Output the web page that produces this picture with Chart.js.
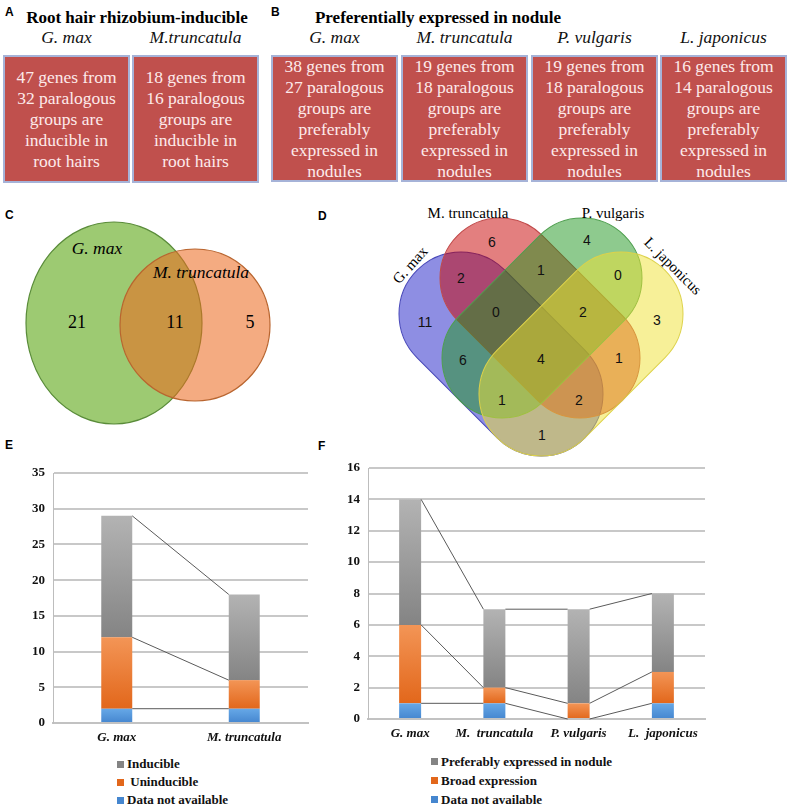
<!DOCTYPE html>
<html>
<head>
<meta charset="utf-8">
<title>Root hair and nodule genes</title>
<script src="https://cdn.jsdelivr.net/npm/chart.js@4.4.1/dist/chart.umd.min.js"></script>
<style>
  html, body { margin: 0; padding: 0; background: #fff; }
  body { position: relative; width: 787px; height: 804px; overflow: hidden; font-family: "Liberation Serif", "Times New Roman", serif; color: #111; }
  .tag { position: absolute; font: bold 12px "Liberation Sans", Arial, sans-serif; line-height: 12px; color: #000; }
  .title { position: absolute; font-weight: bold; font-size: 17px; line-height: 18px; white-space: nowrap; transform: translateX(-50%); color: #000; }
  .species { position: absolute; top: 28px; font-style: italic; font-size: 17.5px; line-height: 18px; white-space: nowrap; transform: translateX(-50%); }
  .box { position: absolute; top: 55px; height: 128px; box-sizing: border-box; background: #c0504d; border: 2px solid #a6b3d8; color: #fdeaea; font-size: 17.5px; line-height: 21px; text-align: center; display: flex; align-items: center; justify-content: center; }
  canvas { position: absolute; }
  #venn { position: absolute; left: 0; top: 0; }
  .legend { position: absolute; font-weight: bold; font-size: 13px; color: #111; }
  .legend div { display: flex; align-items: center; white-space: pre; }
  .legend .key { display: inline-block; width: 7px; height: 7px; margin-right: 3px; }
</style>
</head>
<body>
<div class="tag" style="left:5px;top:6px">A</div>
<div class="title" style="left:137px;top:9px">Root hair rhizobium-inducible</div>
<div class="tag" style="left:271px;top:6px">B</div>
<div class="title" style="left:438px;top:9px">Preferentially expressed in nodule</div>
<div id="boxes"></div>

<svg id="venn" width="787" height="470"></svg>
<div class="tag" style="left:5px;top:209px">C</div>
<div class="tag" style="left:318px;top:210px">D</div>

<div class="tag" style="left:5px;top:439px">E</div>
<div class="tag" style="left:318px;top:440px">F</div>
<canvas id="rootHairChart" width="320" height="300" style="left:0;top:450px"></canvas>
<canvas id="noduleChart" width="420" height="300" style="left:300px;top:445px"></canvas>
<div class="legend" id="rootHairLegend" style="left:117px;top:755px;line-height:18px"></div>
<div class="legend" id="noduleLegend" style="left:431px;top:752px;line-height:19px"></div>

<script>
// panel A / B boxes
const rootHairBoxSpecies = ['G. max', 'M.truncatula'];
const rootHairGenes = [47, 18];
const rootHairGroups = [32, 16];
const noduleBoxSpecies = ['G. max', 'M. truncatula', 'P. vulgaris', 'L. japonicus'];
const noduleGenes = [38, 19, 19, 16];
const noduleGroups = [27, 18, 18, 14];

// panel C: G. max only, shared, M. truncatula only
const vennTwoCounts = [21, 11, 5];
// panel D, regions in the order of vennFourSpots below
const vennFourCounts = [11, 6, 4, 3, 2, 1, 0, 0, 2, 6, 4, 1, 1, 2, 1];

// panel E
const rootHairSpecies = ['G. max', 'M. truncatula'];
const rootHairNA = [2, 2];
const rootHairUninducible = [10, 4];
const rootHairInducible = [17, 12];
const rootHairTicks = [0, 5, 10, 15, 20, 25, 30, 35];

// panel F
const noduleSpecies = ['G. max', 'M.  truncatula', 'P. vulgaris', 'L.  japonicus'];
const noduleNA = [1, 1, 0, 1];
const noduleBroad = [5, 1, 1, 2];
const nodulePreferred = [8, 5, 6, 5];
const noduleTicks = [0, 2, 4, 6, 8, 10, 12, 14, 16];

// ---------- boxes ----------
const boxes = document.getElementById('boxes');
function addBox(left, width, height, lines, species) {
  const b = document.createElement('div');
  b.className = 'box';
  b.style.left = left + 'px';
  b.style.width = width + 'px';
  b.style.height = height + 'px';
  b.innerHTML = '<div>' + lines.join('<br>') + '</div>';
  boxes.appendChild(b);
  const s = document.createElement('div');
  s.className = 'species';
  s.style.left = (left + width / 2) + 'px';
  s.textContent = species;
  boxes.appendChild(s);
}
const aLefts = [3, 132];
rootHairGenes.forEach((g, i) => {
  addBox(aLefts[i], 127, 128, [g + ' genes from', rootHairGroups[i] + ' paralogous', 'groups are', 'inducible in', 'root hairs'], rootHairBoxSpecies[i]);
});
const bLefts = [271, 401, 531, 660];
noduleGenes.forEach((g, i) => {
  addBox(bLefts[i], 127, 127, [g + ' genes from', noduleGroups[i] + ' paralogous', 'groups are', 'preferably', 'expressed in', 'nodules'], noduleBoxSpecies[i]);
});

// ---------- Venn diagrams ----------
const NS = 'http://www.w3.org/2000/svg';
const svg = document.getElementById('venn');
function el(tag, attrs, text) {
  const e = document.createElementNS(NS, tag);
  for (const k in attrs) e.setAttribute(k, attrs[k]);
  if (text !== undefined) e.textContent = text;
  svg.appendChild(e);
  return e;
}
const serif = "'Liberation Serif', 'Times New Roman', serif";
const sans = "'Liberation Sans', Arial, sans-serif";

// C
el('ellipse', { cx: 114, cy: 323, rx: 88, ry: 101, fill: '#9dca72', stroke: '#5a8c3a', 'stroke-width': 1.2 });
el('ellipse', { cx: 195, cy: 325, rx: 75, ry: 76, fill: 'rgba(235,105,30,0.56)', stroke: '#b9652f', 'stroke-width': 1.2 });
el('text', { x: 97, y: 248, 'font-family': serif, 'font-size': 17.5, 'font-style': 'italic', 'text-anchor': 'middle', 'dominant-baseline': 'central' }, 'G. max');
el('text', { x: 201, y: 272, 'font-family': serif, 'font-size': 17.5, 'font-style': 'italic', 'text-anchor': 'middle', 'dominant-baseline': 'central' }, 'M. truncatula');
[77, 175, 250].forEach((x, i) => {
  el('text', { x: x, y: 322, 'font-family': serif, 'font-size': 18, 'text-anchor': 'middle', 'dominant-baseline': 'central' }, vennTwoCounts[i]);
});

// D: stadium shapes given by their two cap centres and radius
function stadium(c1, c2, r, fill, stroke) {
  const cx = (c1[0] + c2[0]) / 2, cy = (c1[1] + c2[1]) / 2;
  const len = Math.hypot(c2[0] - c1[0], c2[1] - c1[1]);
  const ang = Math.atan2(c2[1] - c1[1], c2[0] - c1[0]) * 180 / Math.PI;
  el('rect', { x: cx - len / 2 - r, y: cy - r, width: len + 2 * r, height: 2 * r, rx: r, ry: r,
    fill: fill, stroke: stroke, 'stroke-width': 1, transform: 'rotate(' + ang + ' ' + cx + ' ' + cy + ')' });
}
stadium([461, 314], [541, 394], 62, 'rgba(30,30,200,0.5)', '#4646b8');
stadium([500, 278], [580, 358], 60, 'rgba(200,0,0,0.5)', '#c04a4a');
stadium([582, 278], [502, 358], 60, 'rgba(30,150,30,0.5)', '#4f9f4f');
stadium([621, 314], [541, 394], 62, 'rgba(240,225,50,0.5)', '#ddd24a');
const vennFourSpots = [[425, 322], [492, 242], [587, 240], [657, 320], [461, 278], [541, 270], [618, 275],
  [496, 312], [583, 312], [463, 360], [541, 359], [619, 358], [502, 400], [579, 400], [542, 435]];
vennFourSpots.forEach((p, i) => {
  el('text', { x: p[0], y: p[1], 'font-family': sans, 'font-size': 14, 'text-anchor': 'middle', 'dominant-baseline': 'central', fill: '#111' }, vennFourCounts[i]);
});
el('text', { x: 468, y: 213, 'font-family': serif, 'font-size': 15, 'text-anchor': 'middle', 'dominant-baseline': 'central' }, 'M. truncatula');
el('text', { x: 613, y: 213, 'font-family': serif, 'font-size': 15, 'text-anchor': 'middle', 'dominant-baseline': 'central' }, 'P. vulgaris');
el('text', { x: 410, y: 265, 'font-family': serif, 'font-size': 15, 'text-anchor': 'middle', 'dominant-baseline': 'central', transform: 'rotate(-48 410 265)' }, 'G. max');
el('text', { x: 673, y: 266, 'font-family': serif, 'font-size': 15, 'text-anchor': 'middle', 'dominant-baseline': 'central', transform: 'rotate(45 673 266)' }, 'L. japonicus');

// ---------- stacked bar charts ----------
function stackGradient(light, dark) {
  return function (context) {
    const chart = context.chart;
    const yScale = chart.scales.y;
    if (!chart.chartArea || !yScale || context.type !== 'data') return dark;
    const sets = chart.data.datasets;
    let base = 0;
    for (let d = 0; d < context.datasetIndex; d++) base += sets[d].data[context.dataIndex];
    const top = base + sets[context.datasetIndex].data[context.dataIndex];
    const y0 = yScale.getPixelForValue(base);
    const y1 = yScale.getPixelForValue(top);
    if (!isFinite(y0) || !isFinite(y1) || y0 === y1) return dark;
    const g = chart.ctx.createLinearGradient(0, y1, 0, y0);
    g.addColorStop(0, light);
    g.addColorStop(1, dark);
    return g;
  };
}

// Excel style series lines between neighbouring bars
const seriesLines = {
  id: 'seriesLines',
  afterDatasetsDraw(chart) {
    const ctx = chart.ctx;
    ctx.save();
    ctx.strokeStyle = '#5a5a5a';
    ctx.lineWidth = 1;
    chart.data.datasets.forEach((ds, di) => {
      const bars = chart.getDatasetMeta(di).data;
      ctx.beginPath();
      for (let i = 0; i < bars.length - 1; i++) {
        const a = bars[i], b = bars[i + 1];
        ctx.moveTo(a.x + a.width / 2, a.y);
        ctx.lineTo(b.x - b.width / 2, b.y);
      }
      ctx.stroke();
    });
    ctx.restore();
  }
};

const GREY = ['#b3b3b3', '#848484'];
const ORANGE = ['#f39556', '#e2671b'];
const BLUE = ['#66a8e7', '#4586cf'];

function makeChart(id, labels, series, ticks, barPct, pad, xHeight) {
  const tickFont = { family: serif, size: 13, weight: 'bold' };
  return new Chart(document.getElementById(id).getContext('2d'), {
    type: 'bar',
    data: {
      labels: labels,
      datasets: series.map(s => ({
        label: s.label,
        data: s.data,
        backgroundColor: stackGradient(s.colors[0], s.colors[1]),
        borderWidth: 0,
        barPercentage: barPct,
        categoryPercentage: 1
      }))
    },
    options: {
      responsive: false,
      animation: false,
      layout: { padding: pad },
      plugins: { legend: { display: false }, tooltip: { enabled: false } },
      scales: {
        x: {
          stacked: true,
          grid: { display: false, drawTicks: false },
          border: { color: '#c2c2c2', width: 2 },
          ticks: { color: '#111', padding: 7, font: { family: serif, size: 13, weight: 'bold', style: 'italic' } },
          afterFit: s => { s.height = xHeight; }
        },
        y: {
          stacked: true,
          min: ticks[0],
          max: ticks[ticks.length - 1],
          afterBuildTicks: s => { s.ticks = ticks.map(v => ({ value: v })); },
          grid: { color: '#c8c8c8', lineWidth: 2, drawTicks: false },
          border: { color: '#bdbdbd', width: 1 },
          ticks: { color: '#111', padding: 8, font: tickFont },
          afterFit: s => { s.width = 40; }
        }
      }
    },
    plugins: [seriesLines]
  });
}

const rootHairSeries = [
  { label: 'Data not available', data: rootHairNA, colors: BLUE },
  { label: ' Uninducible', data: rootHairUninducible, colors: ORANGE },
  { label: 'Inducible', data: rootHairInducible, colors: GREY }
];
const noduleSeries = [
  { label: 'Data not available', data: noduleNA, colors: BLUE },
  { label: 'Broad expression', data: noduleBroad, colors: ORANGE },
  { label: 'Preferably expressed in nodule', data: nodulePreferred, colors: GREY }
];

makeChart('rootHairChart', rootHairSpecies, rootHairSeries, rootHairTicks, 0.243,
  { left: 13, right: 12, top: 23, bottom: 0 }, 27);
makeChart('noduleChart', noduleSpecies, noduleSeries, noduleTicks, 0.261,
  { left: 28, right: 15, top: 23, bottom: 0 }, 26);

function buildLegend(id, series) {
  const box = document.getElementById(id);
  series.slice().reverse().forEach(s => {
    const row = document.createElement('div');
    const key = document.createElement('span');
    key.className = 'key';
    key.style.background = s.colors[1];
    row.appendChild(key);
    row.appendChild(document.createTextNode(s.label));
    box.appendChild(row);
  });
}
buildLegend('rootHairLegend', rootHairSeries);
buildLegend('noduleLegend', noduleSeries);
</script>
</body>
</html>
